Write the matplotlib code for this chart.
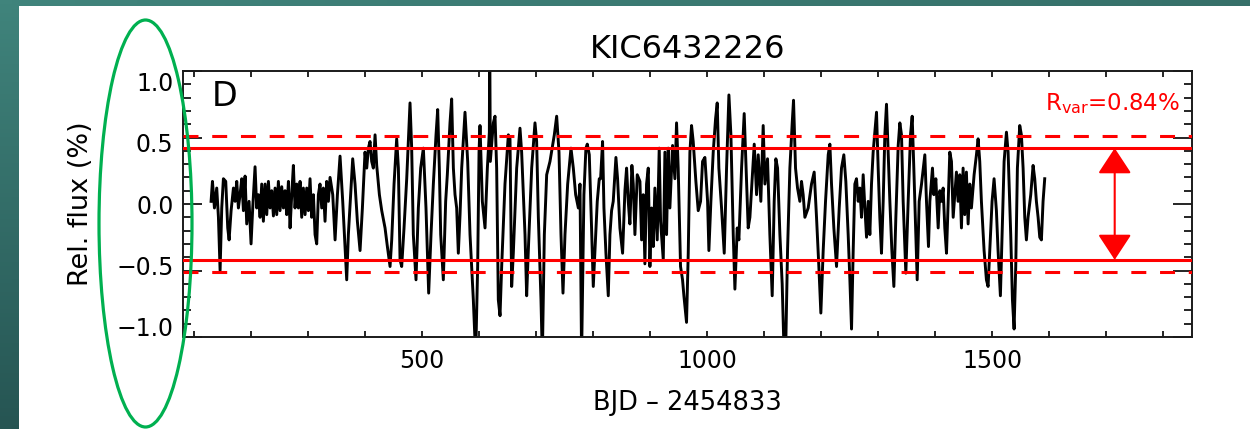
import numpy as np
import matplotlib.pyplot as plt
from matplotlib.patches import Ellipse, Rectangle
from matplotlib.ticker import MultipleLocator

# light curve (BJD - 2454833, relative flux in %)
time = np.array([
    130.7, 133.1, 136.6, 140.6, 143.6, 146.5, 149.4, 152.3, 156.4, 159.9,
    162.3, 165.8, 169.9, 172.8, 175.7, 178.6, 181.5, 184.5, 187.4, 190.3,
    193.2, 197.3, 200.8, 203.7, 207.8, 210.7, 213.7, 216.6, 219.5, 222.4,
    225.4, 228.3, 231.2, 234.1, 237.0, 240.0, 242.9, 245.8, 248.7, 251.6,
    254.6, 257.5, 260.4, 263.3, 266.3, 269.2, 272.1, 275.0, 277.9, 280.9,
    283.8, 286.7, 289.6, 292.5, 295.5, 298.4, 301.3, 304.2, 307.1, 310.1,
    313.0, 315.9, 318.8, 321.7, 324.7, 327.6, 330.5, 333.4, 336.4, 339.3,
    344.0, 348.1, 352.2, 356.8, 361.5, 365.6, 368.5, 371.4, 375.5, 379.0,
    383.1, 387.2, 391.9, 396.0, 400.6, 403.6, 406.5, 409.4, 412.3, 415.2,
    418.2, 421.1, 425.8, 429.9, 435.7, 439.8, 444.5, 447.4, 451.5, 456.1,
    459.1, 462.0, 464.9, 469.0, 473.7, 479.5, 482.4, 485.3, 490.0, 494.1,
    498.2, 502.9, 507.5, 512.2, 516.3, 520.4, 525.1, 528.0, 530.9, 533.3,
    537.9, 542.0, 544.9, 549.6, 552.5, 555.5, 558.4, 561.3, 564.2, 567.2,
    570.1, 575.9, 580.6, 584.7, 590.5, 594.6, 598.1, 600.5, 602.2, 606.3,
    611.0, 615.1, 618.6, 619.2, 620.3, 625.6, 628.5, 631.4, 634.3, 637.3,
    640.2, 646.0, 651.9, 654.8, 657.7, 660.6, 666.5, 672.3, 675.2, 681.1,
    684.0, 686.9, 692.8, 698.6, 701.5, 704.5, 709.1, 711.5, 715.0, 719.1,
    724.9, 732.5, 736.6, 740.7, 744.2, 747.7, 751.2, 755.9, 761.7, 765.8,
    769.9, 774.6, 777.5, 780.3, 784.4, 787.9, 790.3, 793.8, 797.8, 800.8,
    803.7, 807.8, 811.3, 813.6, 817.1, 819.5, 823.0, 827.1, 830.0, 832.9,
    835.8, 840.5, 843.4, 847.5, 852.2, 856.3, 859.2, 862.1, 865.0, 868.5,
    870.9, 873.8, 877.9, 882.6, 885.5, 888.4, 891.3, 894.2, 897.2, 900.1,
    903.0, 905.9, 908.8, 912.9, 916.4, 918.8, 923.5, 926.4, 929.3, 932.2,
    935.1, 939.8, 943.9, 946.8, 949.7, 953.8, 957.3, 959.7, 964.3, 967.3,
    970.2, 973.1, 976.0, 980.7, 984.8, 988.9, 992.4, 996.5, 1001.2, 1003.5,
    1007.0, 1011.1, 1015.2, 1018.1, 1021.0, 1025.7, 1030.4, 1034.5, 1038.6, 1042.1,
    1046.2, 1049.1, 1053.2, 1056.1, 1060.8, 1065.4, 1067.8, 1072.4, 1075.4, 1079.5,
    1083.0, 1087.1, 1090.0, 1094.6, 1098.7, 1101.7, 1106.3, 1110.4, 1114.5, 1118.0,
    1120.9, 1123.9, 1128.0, 1132.0, 1135.5, 1137.9, 1141.4, 1145.5, 1149.6, 1151.9,
    1155.4, 1158.9, 1163.0, 1165.9, 1168.8, 1171.8, 1177.6, 1183.4, 1188.1, 1192.2,
    1196.3, 1199.8, 1203.9, 1208.0, 1212.7, 1215.6, 1218.5, 1222.6, 1227.3, 1232.0,
    1236.0, 1240.1, 1243.6, 1247.7, 1250.7, 1253.6, 1256.5, 1259.4, 1262.3, 1265.3,
    1268.2, 1271.1, 1274.0, 1277.0, 1279.9, 1282.8, 1285.7, 1288.6, 1291.5, 1297.4,
    1300.3, 1303.2, 1306.1, 1309.1, 1312.0, 1314.9, 1317.8, 1320.8, 1324.3, 1327.8,
    1331.3, 1335.4, 1338.3, 1341.2, 1344.1, 1348.8, 1352.9, 1357.0, 1359.9, 1362.8,
    1366.3, 1368.7, 1372.2, 1376.3, 1382.1, 1385.0, 1388.5, 1390.9, 1395.5, 1397.9,
    1401.4, 1405.5, 1408.4, 1411.3, 1414.2, 1417.1, 1420.1, 1423.0, 1425.9, 1428.8,
    1431.8, 1434.7, 1437.5, 1440.4, 1443.4, 1446.3, 1449.2, 1452.1, 1455.0, 1458.0,
    1460.9, 1463.8, 1468.5, 1472.6, 1475.5, 1478.4, 1481.3, 1486.0, 1490.1, 1493.0,
    1495.9, 1500.0, 1503.5, 1507.6, 1510.5, 1514.6, 1517.6, 1521.1, 1525.2, 1528.1,
    1532.7, 1535.7, 1538.6, 1541.5, 1544.4, 1548.5, 1551.4, 1554.4, 1557.3, 1560.2,
    1563.1, 1567.8, 1571.9, 1574.8, 1577.7, 1580.7, 1583.6, 1586.5, 1589.4, 1592.3,
])
flux = np.array([
    0.02, 0.17, -0.03, 0.12, -0.10, -0.50, -0.03, 0.19, 0.17, -0.18,
    -0.27, -0.05, 0.12, 0.02, 0.17, -0.03, 0.07, 0.19, -0.05, 0.21,
    -0.15, 0.02, -0.30, -0.03, 0.28, -0.03, 0.07, -0.10, 0.15, -0.13,
    0.15, -0.08, 0.17, -0.03, 0.10, -0.09, 0.12, -0.08, 0.17, -0.05,
    0.13, -0.03, 0.10, -0.08, 0.17, -0.18, 0.07, 0.29, -0.03, 0.15,
    -0.03, 0.17, -0.10, 0.12, -0.08, 0.12, -0.05, 0.19, -0.10, 0.07,
    -0.23, -0.30, 0.07, 0.15, -0.03, 0.12, -0.13, 0.17, 0.02, 0.20,
    0.07, -0.27, 0.07, 0.36, 0.02, -0.32, -0.57, -0.23, 0.07, 0.34,
    0.15, -0.13, -0.35, -0.03, 0.39, 0.27, 0.42, 0.47, 0.32, 0.27,
    0.52, 0.29, 0.07, -0.05, -0.18, -0.32, -0.47, -0.27, 0.15, 0.49,
    0.27, -0.42, -0.47, -0.18, 0.19, 0.76, 0.42, -0.23, -0.57, -0.03,
    0.27, 0.42, -0.03, -0.67, -0.23, 0.15, 0.52, 0.71, 0.27, -0.23,
    -0.57, 0.02, 0.22, 0.61, 0.79, 0.27, 0.07, -0.03, -0.37, -0.08,
    0.27, 0.69, 0.32, -0.23, -0.72, -1.15, -0.47, 0.39, 0.59, 0.02,
    -0.18, 0.27, 0.54, 1.30, 0.32, 0.61, 0.66, 0.27, -0.72, -0.84,
    -0.47, 0.15, 0.52, 0.49, -0.62, -0.37, 0.27, 0.57, 0.39, -0.23,
    -0.69, -0.35, 0.27, 0.61, 0.47, -0.10, -0.72, -1.15, -0.23, 0.22,
    0.32, 0.52, 0.66, 0.39, -0.23, -0.67, -0.23, 0.15, 0.42, 0.27,
    0.07, -0.03, 0.15, -1.15, 0.07, 0.42, 0.45, 0.37, -0.18, -0.62,
    -0.35, 0.02, 0.19, 0.19, 0.47, -0.03, -0.37, -0.69, -0.23, -0.05,
    0.02, 0.35, 0.19, -0.18, -0.37, 0.10, 0.27, 0.02, -0.15, 0.29,
    0.15, -0.23, 0.22, 0.17, -0.27, 0.07, -0.45, 0.15, 0.27, -0.47,
    -0.03, -0.32, 0.12, -0.27, 0.42, -0.13, -0.42, 0.39, -0.23, 0.42,
    -0.03, 0.44, 0.19, 0.61, 0.27, -0.47, -0.57, -0.69, -0.89, -0.37,
    0.39, 0.59, 0.47, 0.17, -0.05, 0.02, 0.32, 0.35, 0.02, -0.35,
    0.02, 0.39, 0.64, 0.76, 0.27, -0.03, -0.37, 0.27, 0.82, 0.52,
    -0.23, -0.64, -0.18, -0.27, 0.27, 0.68, 0.39, -0.18, -0.10, 0.19,
    0.45, 0.07, 0.37, 0.02, 0.59, 0.15, 0.34, -0.23, -0.69, 0.02,
    0.34, 0.27, -0.23, -0.60, -1.15, -1.15, -0.35, 0.27, 0.61, 0.78,
    0.27, 0.12, 0.02, 0.17, 0.07, -0.10, -0.03, 0.15, 0.24, -0.10,
    -0.47, -0.82, -0.35, 0.02, 0.37, 0.45, 0.15, -0.18, -0.47, -0.03,
    0.27, 0.37, 0.17, -0.23, -0.57, -0.94, -0.35, 0.15, 0.19, 0.02,
    0.12, -0.10, 0.22, -0.03, -0.25, 0.02, -0.23, 0.15, 0.39, 0.69,
    0.27, -0.10, -0.37, 0.02, 0.52, 0.75, 0.39, 0.02, -0.35, -0.62,
    -0.10, 0.44, 0.61, 0.52, 0.02, -0.52, 0.02, 0.52, 0.66, 0.27,
    -0.23, -0.57, 0.02, 0.15, 0.37, 0.02, -0.32, 0.02, 0.27, 0.07,
    0.19, -0.18, 0.10, 0.02, 0.12, -0.18, -0.37, 0.02, 0.39, 0.32,
    -0.10, 0.07, 0.24, 0.02, 0.22, -0.18, 0.27, -0.08, 0.24, -0.15,
    0.15, -0.03, 0.22, 0.37, 0.49, 0.32, 0.02, -0.35, -0.57, -0.62,
    -0.35, 0.02, 0.19, -0.05, -0.35, -0.69, -0.23, 0.32, 0.54, 0.39,
    -0.23, -0.72, -0.94, -0.47, 0.27, 0.59, 0.52, 0.27, -0.10, -0.27,
    -0.10, 0.07, 0.29, 0.19, 0.02, -0.10, -0.25, -0.27, 0.02, 0.19,
])

title = "KIC6432226"
panel = "D"
r_var = 0.84
y_solid = 0.42      # half of R_var
y_dashed = 0.515
arrow_x = 1715
xtick_values = [500, 1000, 1500]
ytick_values = [-1.0, -0.5, 0.0, 0.5, 1.0]

W, H = 1250, 429
fig = plt.figure(figsize=(W / 100, H / 100), dpi=100)

# slide background: teal gradient with a white panel on top of it
bg = fig.add_axes([0, 0, 1, 1], zorder=-3)
yy = np.linspace(0, 1, 100)[:, None, None]
xx = np.linspace(0, 1, 100)[None, :, None]
c_top = np.array([0x40, 0x84, 0x7c]) / 255
c_bot = np.array([0x26, 0x55, 0x53]) / 255
rgb = (c_top * (1 - yy) + c_bot * yy) * (1 - 0.15 * xx)
bg.imshow(np.clip(rgb, 0, 1), aspect="auto", extent=[0, 1, 0, 1])
bg.axis("off")
fig.add_artist(Rectangle((19 / W, 0), 1, 1 - 6 / H, transform=fig.transFigure,
                         facecolor="white", edgecolor="none", zorder=-2))

ax = fig.add_axes([183.3 / W, 1 - 337 / H, 1008.4 / W, 266 / H], zorder=0)
lab = ax.twinx()

ax.plot(time, flux, color="black", lw=2.1, zorder=2)
for s in (1, -1):
    ax.axhline(s * y_solid, color="red", lw=2.2, zorder=3)
    ax.axhline(s * y_dashed, color="red", lw=2.2, ls=(0, (4.9, 4.5)), zorder=3)
ax.annotate("", xy=(arrow_x, -y_solid), xytext=(arrow_x, y_solid),
            arrowprops=dict(arrowstyle="<|-|>,head_length=1.6,head_width=1.05",
                            mutation_scale=10, color="red", lw=1.5,
                            shrinkA=0, shrinkB=0), zorder=4)

ax.text(0.028, 0.965, panel, transform=ax.transAxes, fontsize=24,
        va="top", ha="left")
ax.text(0.988, 0.853, f"R$_{{\\mathrm{{var}}}}$={r_var:.2f}%", color="red",
        transform=ax.transAxes, fontsize=16.5, ha="right", va="baseline")

ax.set_xlim(82, 1850)
ax.set_ylim(-0.983, 0.987)
ax.set_xticks(xtick_values)
ax.xaxis.set_minor_locator(MultipleLocator(100))
ax.set_yticks(ytick_values)
ax.yaxis.set_minor_locator(MultipleLocator(0.1))
ax.tick_params(axis="x", which="both", direction="in", top=True, bottom=True,
               length=4, width=1.2, labelsize=17, pad=9)
ax.tick_params(axis="y", which="major", direction="in", left=True, right=True,
               length=14, width=1.2, labelleft=False)
ax.tick_params(axis="y", which="minor", direction="in", left=True, right=True,
               length=6, width=1.2)
for sp in ax.spines.values():
    sp.set_linewidth(1.4)
    sp.set_color("#1a1a1a")

# tick labels of the y axis sit a little closer together than the ticks
lab.set_ylim(-1.086, 1.086)
lab.set_yticks(ytick_values)
lab.yaxis.tick_left()
lab.yaxis.set_label_position("left")
lab.tick_params(axis="y", length=0, labelsize=17, pad=7)
for sp in lab.spines.values():
    sp.set_visible(False)
lab.set_ylabel("Rel. flux (%)", fontsize=19.5, labelpad=16)

ax.set_title(title, fontsize=23, pad=9)
ax.set_xlabel("BJD – 2454833", fontsize=18.5, labelpad=12)

fig.add_artist(Ellipse((145.5 / W, 1 - 223.5 / H), 93 / W, 407 / H,
                       transform=fig.transFigure, fill=False,
                       edgecolor="#00b050", lw=2.3, zorder=10))

fig.savefig("out.png", dpi=100)
